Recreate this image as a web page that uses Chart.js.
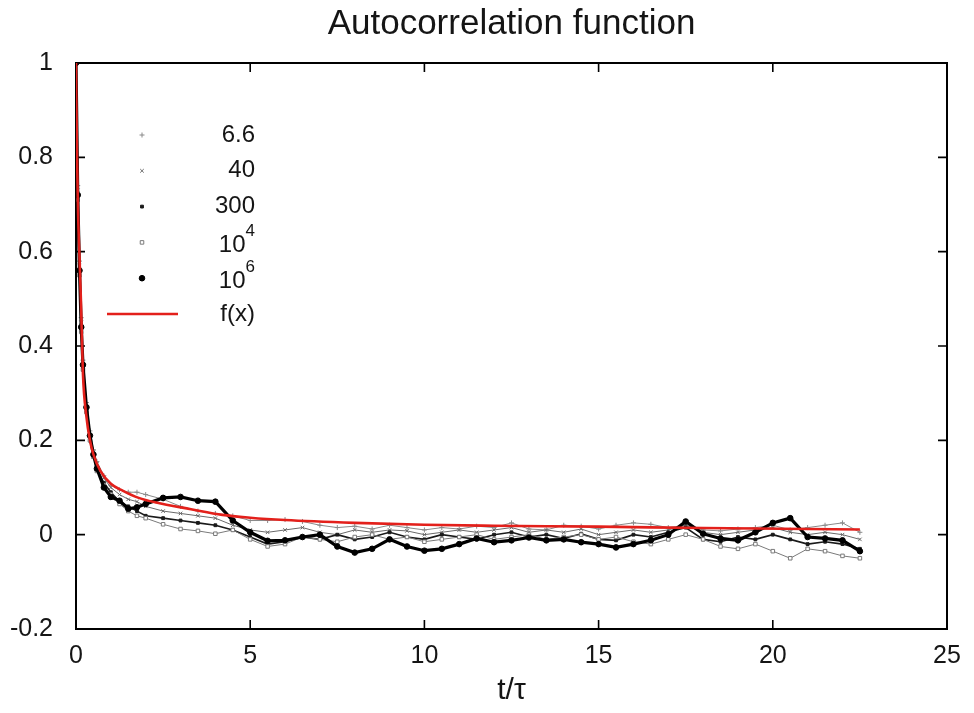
<!DOCTYPE html>
<html><head><meta charset="utf-8">
<script src="https://cdn.jsdelivr.net/npm/chart.js@4/dist/chart.umd.min.js"></script>
<style>html,body{margin:0;padding:0;background:#fff}#wrap{width:974px;height:713px}</style>
</head><body><div id="wrap"><canvas id="c" width="974" height="713"></canvas></div>
<script>
// ---- data ----
const titleText = 'Autocorrelation function';
const xTitle = 't/\u03c4';
const xTicks = [0, 5, 10, 15, 20, 25];
const yTicks = [-0.2, 0, 0.2, 0.4, 0.6, 0.8, 1];
const xTickLabels = ['0', '5', '10', '15', '20', '25'];
const yTickLabels = ['-0.2', '0', '0.2', '0.4', '0.6', '0.8', '1'];

const seriesNames = ['6.6', '40', '300', '10^4', '10^6'];
const fName = 'f(x)';

const tVals = [0, 0.05, 0.1, 0.15, 0.2, 0.3, 0.4, 0.5, 0.6, 0.8, 1.0, 1.25, 1.5, 1.75,
  2.0, 2.5, 3.0, 3.5, 4.0, 4.5, 5.0, 5.5, 6.0, 6.5, 7.0, 7.5, 8.0, 8.5, 9.0, 9.5, 10.0,
  10.5, 11.0, 11.5, 12.0, 12.5, 13.0, 13.5, 14.0, 14.5, 15.0, 15.5, 16.0, 16.5, 17.0,
  17.5, 18.0, 18.5, 19.0, 19.5, 20.0, 20.5, 21.0, 21.5, 22.0, 22.5];

const acf_6_6 = [1, 0.74, 0.58, 0.46, 0.37, 0.28, 0.22, 0.18, 0.155, 0.125, 0.105, 0.095, 0.09, 0.09,
  0.085, 0.075, 0.06, 0.05, 0.045, 0.04, 0.03, 0.03, 0.032, 0.028, 0.02, 0.015, 0.018, 0.012, 0.02, 0.015, 0.01,
  0.015, 0.012, 0.018, 0.015, 0.025, 0.012, 0.01, 0.02, 0.018, 0.012, 0.02, 0.025, 0.022, 0.015,
  0.02, 0.01, 0.008, 0.012, 0.015, 0.02, 0.01, 0.015, 0.02, 0.025, 0.005];
const acf_40 = [1, 0.73, 0.57, 0.45, 0.36, 0.27, 0.21, 0.175, 0.15, 0.12, 0.1, 0.085, 0.075, 0.07,
  0.06, 0.05, 0.045, 0.04, 0.035, 0.02, 0.01, 0.005, 0.01, 0.015, 0.005, 0.0, 0.01, 0.005, 0.01, 0.008, 0.0,
  0.005, 0.01, 0.005, 0.01, 0.015, 0.005, 0.01, 0.005, 0.012, 0.0, 0.005, 0.01, 0.005, 0.01,
  0.02, 0.005, 0.0, 0.005, 0.01, 0.015, 0.005, 0.0, 0.005, 0.0, -0.01];
const acf_300 = [1, 0.72, 0.56, 0.44, 0.35, 0.26, 0.2, 0.17, 0.14, 0.11, 0.09, 0.07, 0.06, 0.05,
  0.04, 0.035, 0.03, 0.025, 0.02, 0.01, -0.005, -0.02, -0.015, -0.005, -0.01, 0.0, -0.01, -0.005, 0.005, -0.005, -0.01,
  0.0, -0.005, -0.01, 0.0, 0.005, -0.005, 0.0, -0.008, 0.002, -0.01, -0.012, 0.0, -0.005, 0.005,
  0.015, -0.01, -0.015, -0.005, -0.01, 0.0, -0.01, -0.02, -0.015, -0.02, -0.03];
const acf_1e4 = [1, 0.71, 0.55, 0.43, 0.35, 0.26, 0.2, 0.165, 0.135, 0.105, 0.085, 0.065, 0.05, 0.04,
  0.035, 0.022, 0.012, 0.008, 0.002, 0.01, -0.01, -0.025, -0.02, -0.005, -0.01, -0.015, -0.005, 0.0, -0.01, -0.005, -0.015,
  -0.01, -0.005, 0.0, -0.01, -0.005, 0.0, -0.01, -0.005, 0.0, -0.01, -0.005, -0.015, -0.02, -0.01,
  0.0, -0.01, -0.025, -0.03, -0.02, -0.035, -0.05, -0.03, -0.035, -0.045, -0.05];
const acf_1e6 = [1, 0.72, 0.56, 0.44, 0.36, 0.27, 0.21, 0.17, 0.14, 0.10, 0.08, 0.072, 0.055, 0.058,
  0.065, 0.078, 0.08, 0.072, 0.07, 0.03, 0.005, -0.013, -0.012, -0.005, 0.0, -0.025, -0.038, -0.03, -0.01, -0.025, -0.034,
  -0.03, -0.02, -0.008, -0.016, -0.012, -0.006, -0.012, -0.01, -0.016, -0.02, -0.027, -0.02, -0.012, 0.0,
  0.028, 0.002, -0.008, -0.012, 0.005, 0.025, 0.035, -0.005, -0.008, -0.012, -0.035];

const fxX = [0, 0.01, 0.03, 0.06, 0.1, 0.14, 0.2, 0.3, 0.4, 0.5, 0.7, 1.0, 1.35, 1.8, 2.3, 3.3, 4.2, 5, 6, 8, 10, 12, 15, 18, 22.5];
const fxY = [1.0, 0.92, 0.8, 0.68, 0.59, 0.5, 0.34, 0.25, 0.2, 0.17, 0.135, 0.108, 0.093, 0.078, 0.068, 0.054, 0.042, 0.036, 0.031, 0.025, 0.021, 0.019, 0.017, 0.014, 0.011];

// ---- build ----
const FONT = '"Liberation Sans", Arial, sans-serif';
const pts = (xsArr, ysArr) => xsArr.map((x, i) => ({x: x, y: ysArr[i]}));
const seriesVals = [acf_6_6, acf_40, acf_300, acf_1e4, acf_1e6];
const styles = [
  {pointStyle: 'cross',    color: '#8a8a8a', fill: '#8a8a8a', r: 2.5, lw: 1.0, bw: 1},
  {pointStyle: 'crossRot', color: '#6a6a6a', fill: '#6a6a6a', r: 2.5, lw: 1.0, bw: 1},
  {pointStyle: 'rect',     color: '#1a1a1a', fill: '#1a1a1a', r: 2,   lw: 1.6, bw: 1},
  {pointStyle: 'rect',     color: '#7a7a7a', fill: '#ffffff', r: 2.5, lw: 1.0, bw: 1},
  {pointStyle: 'circle',   color: '#000000', fill: '#000000', r: 2.8, lw: 3.2, bw: 1}
];
const datasets = [{
  label: fName, data: pts(fxX, fxY), showLine: true, borderColor: '#e3201b', borderWidth: 2.6,
  pointRadius: 0, cubicInterpolationMode: 'monotone', order: 0
}];
seriesNames.forEach((n, i) => {
  const s = styles[i];
  datasets.push({
    label: n, data: pts(tVals, seriesVals[i]), showLine: true,
    borderColor: s.color, borderWidth: s.lw, pointStyle: s.pointStyle,
    pointRadius: s.r, pointBorderColor: s.color, pointBackgroundColor: s.fill,
    pointBorderWidth: s.bw, order: 5 - i + 1
  });
});

const frameTicks = {
  id: 'frameTicks',
  beforeDatasetsDraw(chart) {
    const {ctx, chartArea: a, scales: {x, y}} = chart;
    ctx.save();
    // title centred over the plot area
    ctx.fillStyle = '#151515';
    ctx.font = '35px ' + FONT;
    ctx.textAlign = 'center';
    ctx.textBaseline = 'middle';
    ctx.fillText(titleText, (a.left + a.right) / 2, a.top - 39);
    // frame
    ctx.strokeStyle = '#000';
    ctx.lineWidth = 2;
    ctx.strokeRect(a.left, a.top, a.right - a.left, a.bottom - a.top);
    ctx.lineWidth = 1.6;
    ctx.beginPath();
    xTicks.forEach(v => {
      const p = x.getPixelForValue(v);
      ctx.moveTo(p, a.bottom); ctx.lineTo(p, a.bottom - 9);
      ctx.moveTo(p, a.top); ctx.lineTo(p, a.top + 9);
    });
    yTicks.forEach(v => {
      const p = y.getPixelForValue(v);
      ctx.moveTo(a.left, p); ctx.lineTo(a.left + 9, p);
      ctx.moveTo(a.right, p); ctx.lineTo(a.right - 9, p);
    });
    ctx.stroke();
    ctx.restore();
  },
  afterDatasetsDraw(chart) {
    const {ctx, chartArea: a} = chart;
    ctx.save();
    const order = seriesNames.concat([fName]);
    const textRight = a.left + 179;
    const markX = a.left + 66;
    order.forEach((name, i) => {
      const ds = chart.data.datasets.find(d => d.label === name);
      const yy = a.top + 72 + i * 35.8;
      if (name === fName) {
        ctx.strokeStyle = ds.borderColor; ctx.lineWidth = ds.borderWidth;
        ctx.beginPath(); ctx.moveTo(a.left + 31, yy); ctx.lineTo(a.left + 102, yy); ctx.stroke();
      } else {
        ctx.strokeStyle = ds.pointBorderColor; ctx.fillStyle = ds.pointBackgroundColor;
        ctx.lineWidth = ds.pointBorderWidth;
        Chart.helpers.drawPoint(ctx, {pointStyle: ds.pointStyle, radius: ds.pointRadius, borderWidth: ds.pointBorderWidth, rotation: 0}, markX, yy);
      }
      ctx.fillStyle = '#151515';
      ctx.textBaseline = 'middle';
      ctx.textAlign = 'right';
      const parts = name.split('^');
      if (parts.length === 2) {
        ctx.font = '17px ' + FONT;
        const sw = ctx.measureText(parts[1]).width;
        ctx.fillText(parts[1], textRight, yy - 11);
        ctx.font = '24px ' + FONT;
        ctx.fillText(parts[0], textRight - sw, yy + 3);
      } else {
        ctx.font = '24px ' + FONT;
        ctx.fillText(name, textRight, yy);
      }
    });
    ctx.restore();
  }
};

const tickFont = {family: FONT, size: 25};
new Chart(document.getElementById('c'), {
  type: 'scatter',
  data: {datasets: datasets},
  options: {
    responsive: false, animation: false,
    layout: {padding: {left: 0, right: 27, top: 63, bottom: 0}},
    plugins: {
      legend: {display: false}, tooltip: {enabled: false}, title: {display: false}
    },
    scales: {
      x: {
        type: 'linear', min: 0, max: 25,
        afterBuildTicks: s => { s.ticks = xTicks.map(v => ({value: v})); },
        afterFit: s => { s.height = 84; },
        grid: {display: false, drawTicks: false},
        border: {display: false},
        ticks: {color: '#151515', font: tickFont, padding: 12, maxRotation: 0,
          callback: (v) => xTickLabels[xTicks.indexOf(v)]},
        title: {display: true, text: xTitle, color: '#151515',
          font: {family: FONT, size: 30}, padding: {top: 4, bottom: 4}}
      },
      y: {
        type: 'linear', min: -0.2, max: 1,
        afterBuildTicks: s => { s.ticks = yTicks.map(v => ({value: v})); },
        afterFit: s => { s.width = 76; },
        grid: {display: false, drawTicks: false},
        border: {display: false},
        ticks: {color: '#151515', font: tickFont, padding: 23,
          callback: (v) => yTickLabels[yTicks.findIndex(t => Math.abs(t - v) < 1e-9)]}
      }
    }
  },
  plugins: [frameTicks]
});
</script>
</body></html>
